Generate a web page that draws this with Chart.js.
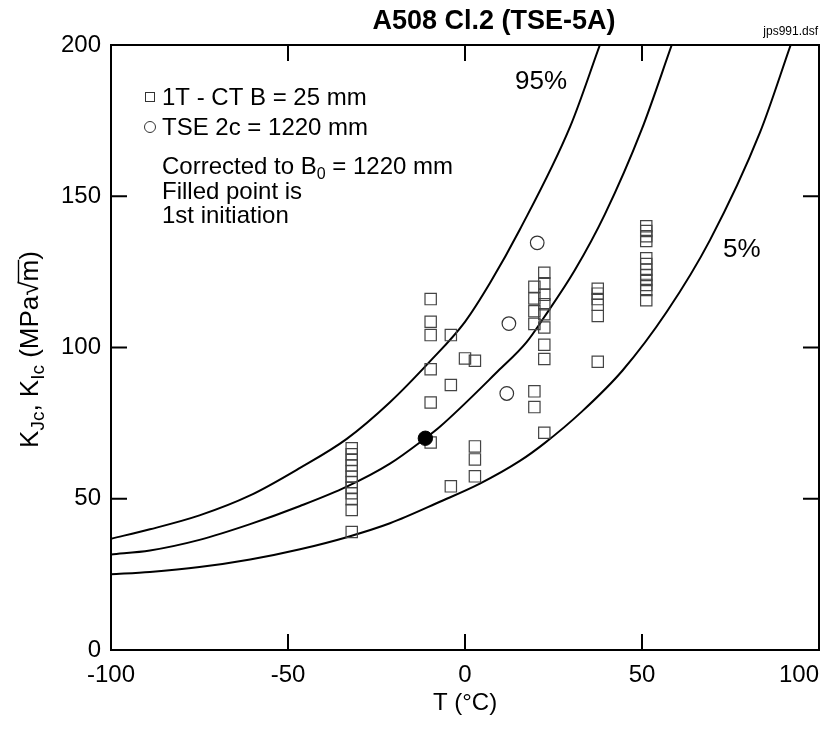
<!DOCTYPE html>
<html>
<head>
<meta charset="utf-8">
<script src="https://cdn.jsdelivr.net/npm/chart.js@4/dist/chart.umd.min.js"></script>
<style>body{margin:0;background:#fff}</style>
</head>
<body>
<canvas id="myChart" width="838" height="730"></canvas>
<script>
// 1T-CT specimens (squares)
let ctT = [-32,-32,-32,-32,-32,-32,-32,-32,-32,-32,-32,-32,
           -9.7,-9.7,-9.7,-9.7,-9.7,-9.7,
           -4,-4,-4, 0, 2.8,2.8,2.8,2.8,
           19.6,19.6,19.6,19.6,19.6,19.6,
           22.4,22.4,22.4,22.4,22.4,22.4,22.4,22.4,22.4,
           37.5,37.5,37.5,37.5,37.5,37.5,
           51.2,51.2,51.2,51.2,51.2,51.2,51.2,51.2,51.2,51.2,51.2,51.2];
let ctK = [66.7,64.7,62.8,61.0,59.2,57.3,55.5,53.7,51.8,49.8,46.3,39.0,
           116.0,108.5,104.1,92.8,81.8,68.6,
           104.1,87.6,54.1, 96.4, 95.6,67.3,63.0,57.4,
           120.1,116.2,112.0,107.8,85.5,80.3,
           124.7,121.2,117.4,114.3,111.0,106.6,100.9,96.2,71.8,
           119.4,117.8,116.0,114.1,110.4,95.3,
           140.1,138.5,136.8,135.2,129.5,127.6,125.7,124.0,122.3,120.7,119.0,115.6];

// TSE 2c = 1220 mm (circles)
let tseT = [20.4, 12.4, 11.8];
let tseK = [134.6, 107.9, 84.8];

// filled point = 1st initiation
let initT = [-11.2];
let initK = [70.0];

// tolerance curves
let p95T = [-100,-89,-75,-60.7,-46.6,-33.4,-21.2,-9.9,0,7.1,15.5,29.7,38.1];
let p95K = [36.8,39.9,44.5,51.1,60.2,69.8,81.9,95.4,108.5,121.4,139,173,200];
let p50T = [-100,-89,-75,-60.7,-46.6,-33.4,-21.2,-11.2,-7.1,9.4,17.4,22.3,31,39.5,49.9,58.4];
let p50K = [31.6,32.9,36.4,41.6,47.6,54.0,61.6,70.0,73.8,92.3,101.8,109.9,125.5,144,172,200];
let p05T = [-100,-89,-75,-60.7,-46.6,-33.4,-21.2,-7.1,4.2,15.5,22.4,33,44.5,57,69.2,83.3,92];
let p05K = [25.0,25.8,27.4,29.9,33.3,37.3,41.9,49.0,55.0,62.5,68.3,78.8,92.4,111.8,135.5,171,200];

let xTicks = [-100,-50,0,50,100];
let yTicks = [0,50,100,150,200];

const FONT = '"Liberation Sans", Arial, sans-serif';
const FS = 24;

function pts(xs, ys) {
  return xs.map((x, i) => ({x: x, y: ys[i]}));
}

function curve(xs, ys) {
  return {
    data: pts(xs, ys),
    showLine: true,
    borderColor: '#000',
    borderWidth: 2,
    pointRadius: 0,
    cubicInterpolationMode: 'monotone',
    fill: false
  };
}

// texts, frame and inward ticks
const decor = {
  id: 'decor',
  afterDraw(chart) {
    const ctx = chart.ctx;
    const a = chart.chartArea;
    const xs = chart.scales.x, ys = chart.scales.y;
    ctx.save();
    ctx.strokeStyle = '#000';
    ctx.lineWidth = 2;
    ctx.strokeRect(a.left, a.top, a.right - a.left, a.bottom - a.top);
    ctx.beginPath();
    xTicks.slice(1, -1).forEach(v => {
      const px = xs.getPixelForValue(v);
      ctx.moveTo(px, a.bottom); ctx.lineTo(px, a.bottom - 16);
      ctx.moveTo(px, a.top); ctx.lineTo(px, a.top + 16);
    });
    yTicks.slice(1, -1).forEach(v => {
      const py = ys.getPixelForValue(v);
      ctx.moveTo(a.left, py); ctx.lineTo(a.left + 16, py);
      ctx.moveTo(a.right, py); ctx.lineTo(a.right - 16, py);
    });
    ctx.stroke();

    ctx.fillStyle = '#000';
    ctx.textBaseline = 'middle';
    // last x tick label sits inside the frame edge
    ctx.textAlign = 'right';
    ctx.font = FS + 'px ' + FONT;
    ctx.fillText(String(xTicks[xTicks.length - 1]), a.right, 675);

    // title
    ctx.textAlign = 'center';
    ctx.font = 'bold 27px ' + FONT;
    ctx.fillText('A508 Cl.2 (TSE-5A)', 494, 22);
    ctx.textAlign = 'right';
    ctx.font = '12px ' + FONT;
    ctx.fillText('jps991.dsf', 818, 32);

    // x title
    ctx.textAlign = 'center';
    ctx.font = FS + 'px ' + FONT;
    ctx.fillText('T (°C)', (a.left + a.right) / 2, 703);

    // legend
    ctx.textAlign = 'left';
    ctx.lineWidth = 1;
    ctx.strokeStyle = '#333';
    ctx.strokeRect(145.5, 92.5, 9, 9);
    ctx.beginPath();
    ctx.arc(150, 127, 5.5, 0, Math.PI * 2);
    ctx.stroke();
    ctx.fillText('1T - CT B = 25 mm', 162, 98);
    ctx.fillText('TSE 2c = 1220 mm', 162, 128);
    let x0 = 162;
    ctx.fillText('Corrected to B', x0, 167);
    x0 += ctx.measureText('Corrected to B').width;
    ctx.font = '16px ' + FONT;
    ctx.fillText('0', x0, 175);
    x0 += ctx.measureText('0').width;
    ctx.font = FS + 'px ' + FONT;
    ctx.fillText(' = 1220 mm', x0, 167);
    ctx.fillText('Filled point is', 162, 192);
    ctx.fillText('1st initiation', 162, 216);

    ctx.font = '26px ' + FONT;
    ctx.fillText('95%', 515, 82);
    ctx.fillText('5%', 723, 250);

    // y title, rotated
    ctx.translate(31, (a.top + a.bottom) / 2 + 2);
    ctx.rotate(-Math.PI / 2);
    const parts = [
      ['K', 26, 0], ['Jc', 19, 8], [', K', 26, 0], ['Ic', 19, 8], [' (MPa', 26, 0], ['\u221A', 26, 0], ['m', 26, 0], [')', 26, 0]
    ];
    let total = 0;
    parts.forEach(p => { ctx.font = p[1] + 'px ' + FONT; p.push(ctx.measureText(p[0]).width); total += p[3]; });
    let cx = -total / 2;
    ctx.textAlign = 'left';
    parts.forEach(p => {
      ctx.font = p[1] + 'px ' + FONT;
      ctx.fillText(p[0], cx, p[2]);
      if (p[0] === 'm') {
        ctx.lineWidth = 1.4;
        ctx.strokeStyle = '#000';
        ctx.beginPath();
        ctx.moveTo(cx - 1, -12.5); ctx.lineTo(cx + p[3], -12.5);
        ctx.stroke();
      }
      cx += p[3];
    });
    ctx.restore();
  }
};

let ctx = document.getElementById('myChart').getContext('2d');
let myChart = new Chart(ctx, {
  type: 'scatter',
  data: {
    datasets: [
      {
        data: pts(initT, initK),
        pointStyle: 'circle',
        pointRadius: 7.2,
        backgroundColor: '#000',
        borderColor: '#000',
        borderWidth: 1
      },
      {
        data: pts(tseT, tseK),
        pointStyle: 'circle',
        pointRadius: 6.8,
        backgroundColor: 'rgba(0,0,0,0)',
        borderColor: '#333',
        borderWidth: 1.2
      },
      {
        data: pts(ctT, ctK),
        pointStyle: 'rect',
        pointRadius: 8,
        backgroundColor: 'rgba(0,0,0,0)',
        borderColor: '#444',
        borderWidth: 1.2
      },
      curve(p95T, p95K),
      curve(p50T, p50K),
      curve(p05T, p05K)
    ]
  },
  options: {
    responsive: false,
    animation: false,
    layout: {padding: {left: 0, right: 19, top: 45, bottom: 0}},
    plugins: {legend: {display: false}, tooltip: {enabled: false}},
    scales: {
      x: {
        type: 'linear', min: -100, max: 100,
        ticks: {
          stepSize: 50, color: '#000', font: {size: FS, family: FONT}, padding: 11, maxRotation: 0,
          callback: v => (v === xTicks[xTicks.length - 1] ? '' : v)
        },
        grid: {display: false, drawTicks: false},
        border: {display: false},
        afterFit: s => { s.height = 80; s.paddingLeft = 0; s.paddingRight = 0; }
      },
      y: {
        min: 0, max: 200,
        ticks: {stepSize: 50, color: '#000', font: {size: FS, family: FONT}, padding: 10},
        grid: {display: false, drawTicks: false},
        border: {display: false},
        afterFit: s => { s.width = 111; s.paddingTop = 0; s.paddingBottom = 0; }
      }
    }
  },
  plugins: [decor]
});
</script>
</body>
</html>
